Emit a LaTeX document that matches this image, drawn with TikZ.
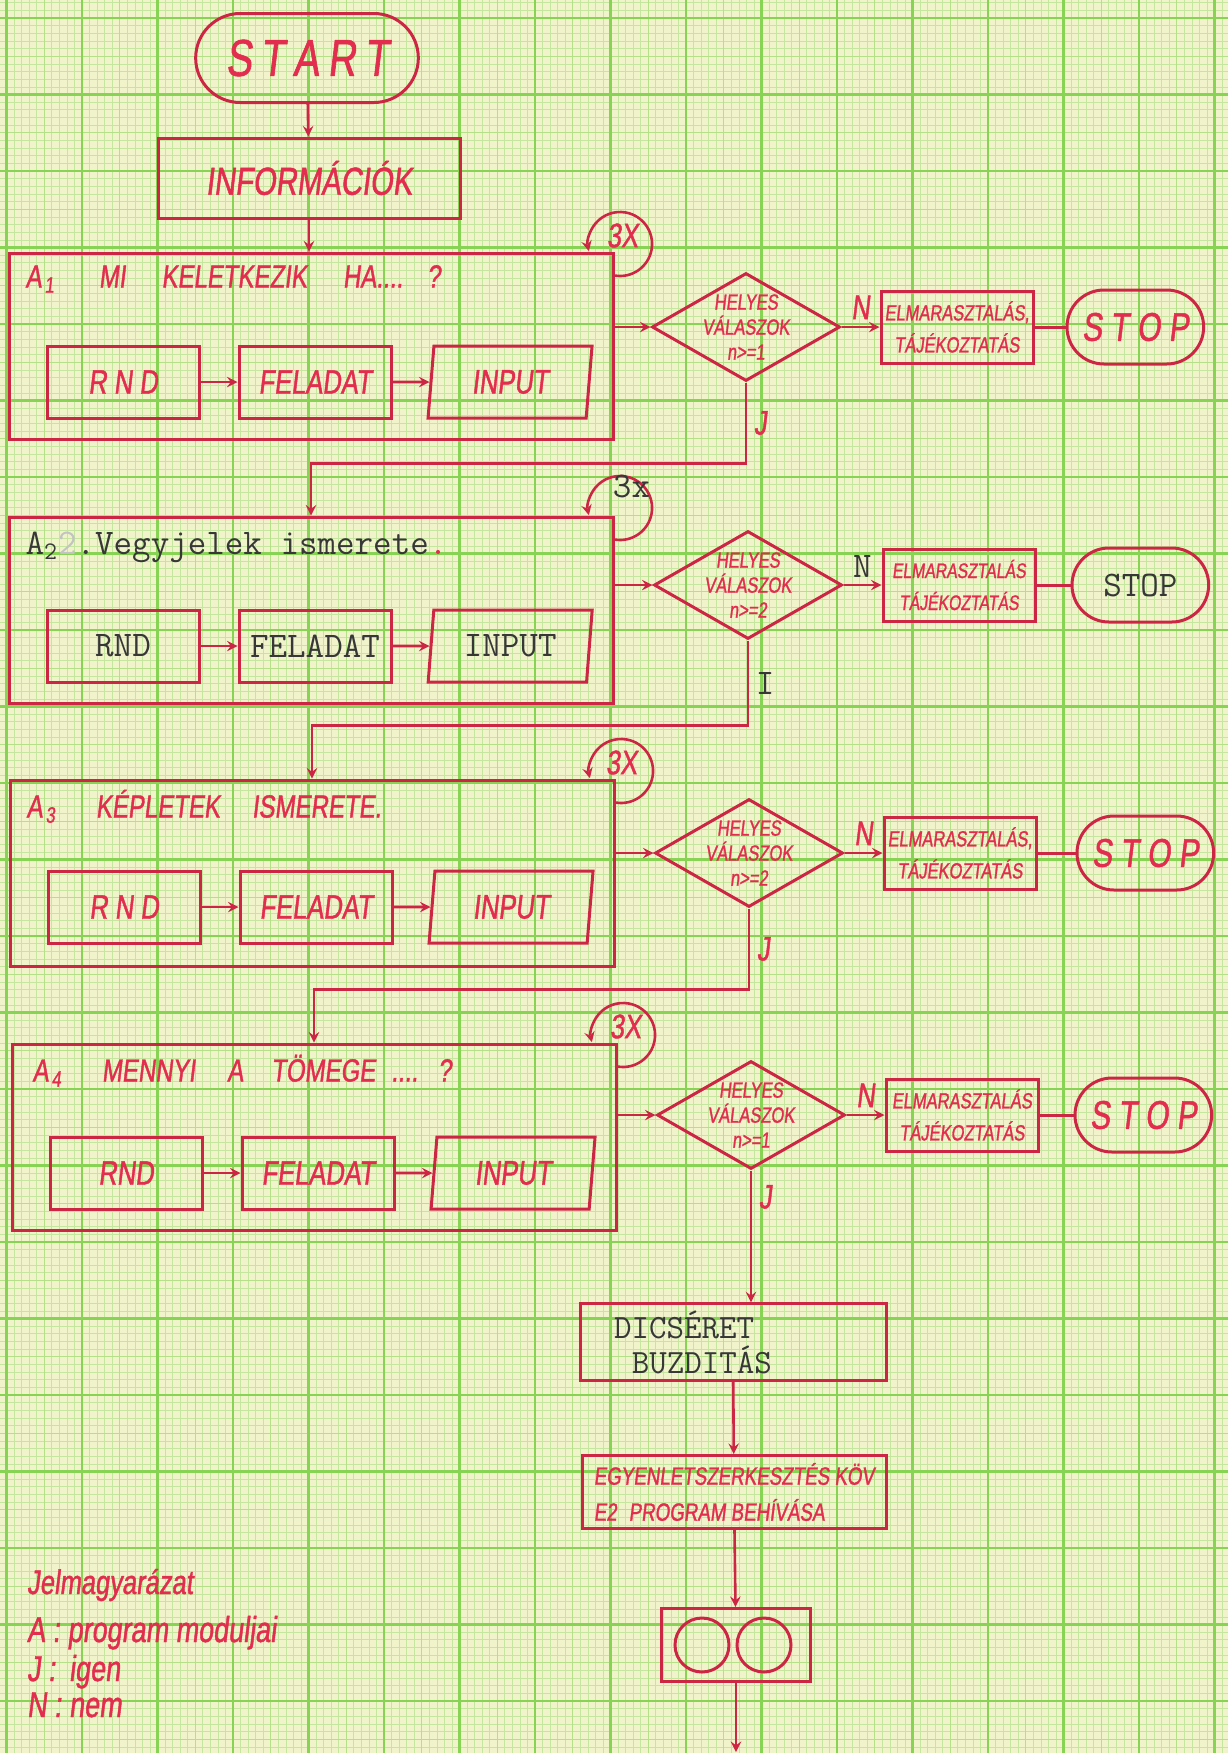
\documentclass[tikz,border=0pt]{standalone}
\usepackage{fontspec}
\usepackage{xcolor}
\usepackage{tikz}
\usetikzlibrary{shapes.geometric,shapes.misc}
\usetikzlibrary{positioning}
\newfontfamily\kezir[FakeStretch=0.75,FakeSlant=0.12,FakeBold=1.2]{Liberation Sans}
\definecolor{papir}{RGB}{241,244,203}
\definecolor{racs}{RGB}{196,230,158}
\definecolor{racskozep}{RGB}{180,224,135}
\definecolor{racsfo}{RGB}{135,212,85}
\definecolor{tinta}{RGB}{205,38,68}
\definecolor{piros}{RGB}{226,45,78}
\definecolor{gepiras}{RGB}{55,55,55}

\begin{document}
\begin{tikzpicture}[x=0.5pt, y=-0.5pt,
        keret/.style = {draw=tinta, line width=1.5pt},
        vegpont/.style = {keret, rounded rectangle, minimum width=75pt, minimum height=37pt},
        modul/.style = {keret, minimum width=302pt, minimum height=93pt},
        doboz/.style = {keret, minimum width=76pt, minimum height=36pt, inner sep=1pt},
        bemenet/.style = {keret, trapezium, trapezium left angle=78, trapezium right angle=102, trapezium stretches body, minimum width=82pt, minimum height=36pt, inner sep=1pt},
        dontes/.style = {keret, diamond, minimum width=94pt, minimum height=54pt, inner sep=0pt},
        nyil/.style = {draw=tinta, line width=1.3pt, -stealth},
        kezbetu/.style = {text=piros, font=\kezir\fontsize{17}{20}\selectfont},
        kezcim/.style = {text=piros, font=\kezir\fontsize{16}{19}\selectfont, anchor=base west},
        kezkicsi/.style = {text=piros, font=\kezir\fontsize{11}{12.5}\selectfont, align=center},
        kezelm/.style = {text=piros, font=\kezir\fontsize{11}{16}\selectfont, align=center},
        kezjel/.style = {text=piros, font=\kezir\fontsize{18}{20}\selectfont, anchor=base west},
        gep/.style = {text=gepiras, font=\ttfamily\fontsize{18}{19}\selectfont}
    ]
    % milimeterpapir
    \useasboundingbox (0,0) rectangle (1228,1753);
    \fill[papir] (0,0) rectangle (1228,1753);
    \foreach \k in {0,...,161} \draw[racs, line width=0.35pt] ({6.5+7.55*\k},0) -- ({6.5+7.55*\k},1753);
    \foreach \k in {-2,...,226} \draw[racs, line width=0.35pt] (0,{18+7.65*\k}) -- (1228,{18+7.65*\k});
    \foreach \k in {0,...,15} \draw[racskozep, line width=0.5pt] ({44.25+75.5*\k},0) -- ({44.25+75.5*\k},1753);
    \foreach \k in {0,...,22} \draw[racskozep, line width=0.5pt] (0,{56.25+76.5*\k}) -- (1228,{56.25+76.5*\k});
    \foreach \k in {0,...,16} \draw[racsfo, line width=1.1pt] ({6.5+75.5*\k},0) -- ({6.5+75.5*\k},1753);
    \foreach \k in {0,...,22} \draw[racsfo, line width=1.1pt] (0,{18+76.5*\k}) -- (1228,{18+76.5*\k});

    % eleje
    \node[vegpont, minimum width=118pt, minimum height=44.5pt, kezbetu, font=\kezir\fontsize{26}{30}\selectfont] (start) at (307,58) {S\,T\,A\,R\,T};
    \node[keret, minimum width=151pt, minimum height=40pt, kezbetu, font=\kezir\fontsize{19.5}{22}\selectfont] (info) at (309,178) {INFORMÁCIÓK};
    \draw[nyil] (start) -- (info);

    % A1 modul
    \node[modul] (a1) at (311,346) {};
    \node[kezcim] (cim1) at ([shift={(5.5pt,-18pt)}]a1.north west) {A\kern1.5pt\textsubscript{1}\hspace{22pt}MI\hspace{18pt}KELETKEZIK\hspace{18pt}HA....\hspace{12pt}?};
    \node[doboz, kezbetu] (rnd1) at ([shift={(-94pt,-18pt)}]a1.center) {R N D};
    \node[doboz, kezbetu, right=18.5pt of rnd1] (fel1) {FELADAT};
    \node[bemenet, kezbetu, right=18.5pt of fel1] (inp1) {INPUT};
    \draw[nyil] (info) -- (info |- a1.north);
    \draw[nyil] (rnd1) -- (fel1);
    \draw[nyil] (fel1) -- (inp1);
    \draw[nyil] ([yshift=-12pt]a1.north east) arc[start angle=-100, end angle=193, radius=16pt];
    \node[kezbetu] (h1) at ([shift={(4pt,8pt)}]a1.north east) {3X};
    \node[dontes, label={[kezkicsi]center:{HELYES\\VÁLASZOK\\n>=1}}] (d1) at (746,327) {};
    \node[doboz, kezelm, right=19pt of d1] (e1) {ELMARASZTALÁS,\\TÁJÉKOZTATÁS};
    \node[vegpont, kezbetu, font=\kezir\fontsize{20}{24}\selectfont, right=15.5pt of e1] (s1) {S T O P};
    \draw[nyil] (a1.east |- d1) -- (d1);
    \draw[nyil] (d1) -- node[kezbetu, above] {N} (e1);
    \draw[keret] (e1) -- (s1);

    % A2 modul
    \node[modul] (a2) at (311,610) {};
    \node[gep, anchor=base west] (cim2) at ([shift={(5.5pt,-19.5pt)}]a2.north west) {A\textsubscript{2}{\color{gepiras!30}2}.Vegyjelek ismerete{\color{piros}.}};
    \node[doboz, gep] (rnd2) at ([shift={(-94pt,-18pt)}]a2.center) {RND};
    \node[doboz, gep, right=18.5pt of rnd2] (fel2) {FELADAT};
    \node[bemenet, gep, right=18.5pt of fel2] (inp2) {INPUT};
    \draw[nyil] (d1.south) -- node[kezbetu, right] {J} ++(0,81) -| (a2.north);
    \draw[nyil] (rnd2) -- (fel2);
    \draw[nyil] (fel2) -- (inp2);
    \draw[nyil] ([yshift=-12pt]a2.north east) arc[start angle=-100, end angle=193, radius=16pt];
    \node[gep] (h2) at ([shift={(8.5pt,14.5pt)}]a2.north east) {3x};
    \node[dontes, label={[kezkicsi]center:{HELYES\\VÁLASZOK\\n>=2}}] (d2) at (748,585) {};
    \node[doboz, kezelm, font=\kezir\fontsize{10.5}{16}\selectfont, right=19pt of d2] (e2) {ELMARASZTALÁS\\TÁJÉKOZTATÁS};
    \node[vegpont, gep, right=17pt of e2] (s2) {STOP};
    \draw[nyil] (a2.east |- d2) -- (d2);
    \draw[nyil] (d2) -- node[gep, above] {N} (e2);
    \draw[keret] (e2) -- (s2);

    % A3 modul
    \node[modul] (a3) at (312,873) {};
    \node[kezcim] (cim3) at ([shift={(5.5pt,-19.5pt)}]a3.north west) {A\kern1.5pt\textsubscript{3}\hspace{20pt}KÉPLETEK\hspace{16pt}ISMERETE.};
    \node[doboz, kezbetu] (rnd3) at ([shift={(-94pt,-17pt)}]a3.center) {R N D};
    \node[doboz, kezbetu, right=18.5pt of rnd3] (fel3) {FELADAT};
    \node[bemenet, kezbetu, right=18.5pt of fel3] (inp3) {INPUT};
    \draw[nyil] (d2.south) -- node[gep, right] {I} ++(0,85) -| (a3.north);
    \draw[nyil] (rnd3) -- (fel3);
    \draw[nyil] (fel3) -- (inp3);
    \draw[nyil] ([yshift=-12pt]a3.north east) arc[start angle=-100, end angle=193, radius=16pt];
    \node[kezbetu] (h3) at ([shift={(3pt,8pt)}]a3.north east) {3X};
    \node[dontes, label={[kezkicsi]center:{HELYES\\VÁLASZOK\\n>=2}}] (d3) at (749,853) {};
    \node[doboz, kezelm, right=19pt of d3] (e3) {ELMARASZTALÁS,\\TÁJÉKOZTATÁS};
    \node[vegpont, kezbetu, font=\kezir\fontsize{20}{24}\selectfont, right=19pt of e3] (s3) {S T O P};
    \draw[nyil] (a3.east |- d3) -- (d3);
    \draw[nyil] (d3) -- node[kezbetu, above] {N} (e3);
    \draw[keret] (e3) -- (s3);

    % A4 modul
    \node[modul] (a4) at (314,1137) {};
    \node[kezcim] (cim4) at ([shift={(7.5pt,-19.5pt)}]a4.north west) {A\kern1.5pt\textsubscript{4}\hspace{20pt}MENNYI\hspace{16pt}A\hspace{14pt}TÖMEGE\hspace{8pt}....\hspace{10pt}?};
    \node[doboz, kezbetu] (rnd4) at ([shift={(-94pt,-18pt)}]a4.center) {RND};
    \node[doboz, kezbetu, right=18.5pt of rnd4] (fel4) {FELADAT};
    \node[bemenet, kezbetu, right=18.5pt of fel4] (inp4) {INPUT};
    \draw[nyil] (d3.south) -- node[kezbetu, right] {J} ++(0,81) -| (a4.north);
    \draw[nyil] (rnd4) -- (fel4);
    \draw[nyil] (fel4) -- (inp4);
    \draw[nyil] ([yshift=-12pt]a4.north east) arc[start angle=-100, end angle=193, radius=16pt];
    \node[kezbetu] (h4) at ([shift={(4pt,8pt)}]a4.north east) {3X};
    \node[dontes, label={[kezkicsi]center:{HELYES\\VÁLASZOK\\n>=1}}] (d4) at (751,1115) {};
    \node[doboz, kezelm, right=19pt of d4] (e4) {ELMARASZTALÁS\\TÁJÉKOZTATÁS};
    \node[vegpont, kezbetu, font=\kezir\fontsize{20}{24}\selectfont, right=17pt of e4] (s4) {S T O P};
    \draw[nyil] (a4.east |- d4) -- (d4);
    \draw[nyil] (d4) -- node[kezbetu, above] {N} (e4);
    \draw[keret] (e4) -- (s4);

    % vege
    \node[keret, minimum width=153pt, minimum height=38pt, gep, font=\ttfamily\fontsize{17}{17.5}\selectfont, text width=119pt, align=left] (dics) at (733,1342) {DICSÉRET\\\hspace*{0.525em}BUZDITÁS};
    \node[keret, minimum width=152pt, minimum height=36.5pt, kezbetu, font=\kezir\fontsize{12.5}{18}\selectfont, align=left] (egyen) at (734,1492) {EGYENLETSZERKESZTÉS KÖV\\E2\hspace{6pt}PROGRAM BEHÍVÁSA\hspace*{12pt}};
    \node[keret, minimum width=74.5pt, minimum height=36.5pt] (kor) at (736,1645) {};
    \node[keret, circle, minimum size=27pt, inner sep=0pt] (k1) at ([xshift=-17pt]kor.center) {};
    \node[keret, circle, minimum size=27pt, inner sep=0pt] (k2) at ([xshift=14pt]kor.center) {};
    \coordinate (vege) at (736,1752);
    \draw[nyil] (d4.south) -- node[kezbetu, right, pos=0.2] {J} (d4.south |- dics.north);
    \draw[nyil] (dics) -- (egyen);
    \draw[nyil] (egyen) -- (kor);
    \draw[nyil] (kor) -- (vege);

    % jelmagyarazat
    \node[kezjel, font=\kezir\fontsize{17}{20}\selectfont] (jm) at (20,1594) {Jelmagyarázat};
    \node[kezjel] (j1) at (20,1642) {A : program moduljai};
    \node[kezjel] (j2) at (20,1681) {J :\, igen};
    \node[kezjel] (j3) at (20,1717) {N : nem};
\end{tikzpicture}
\end{document}
